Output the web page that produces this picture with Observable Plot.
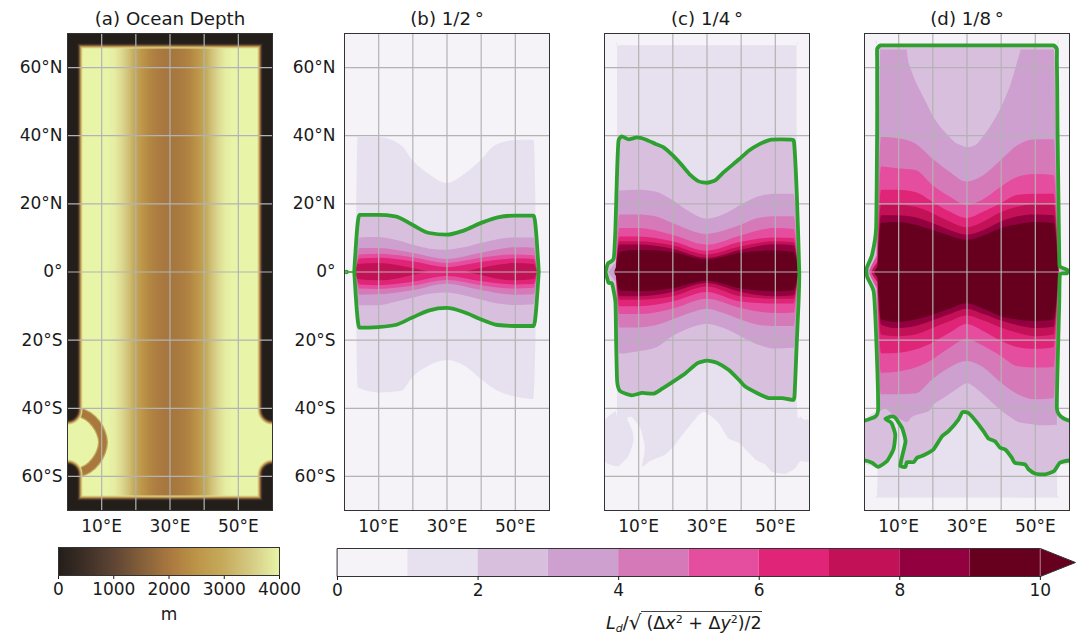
<!DOCTYPE html>
<html>
<head>
<meta charset="utf-8">
<script src="https://cdn.jsdelivr.net/npm/d3@7"></script>
<script src="https://cdn.jsdelivr.net/npm/@observablehq/plot@0.6"></script>
<style>
html,body{margin:0;padding:0;background:#fff}
#root{position:relative;width:1083px;height:638px;overflow:hidden;font-family:"DejaVu Sans",sans-serif;color:#1a1a1a}
#root svg{position:absolute;overflow:visible;background:transparent}
.cap{position:absolute;font-size:17px;white-space:nowrap;line-height:1}
.cap sub{font-size:11px;line-height:0;vertical-align:-3px}
.cap sup{font-size:11px;line-height:0;vertical-align:6px}
</style>
</head>
<body>
<div id="root"></div>
<script>
// ---- shared labels and scales ----
const titles = ["(a) Ocean Depth", "(b) 1/2\u2009\u00b0", "(c) 1/4\u2009\u00b0", "(d) 1/8\u2009\u00b0"];
const lonGrid = [10, 20, 30, 40, 50];
const lonLabels = [10, 30, 50];
const latGrid = [-60, -40, -20, 0, 20, 40, 60];
const levels = [0, 1, 2, 3, 4, 5, 6, 7, 8, 9];
const levelColors = ["#f5f2f8", "#e7e1ef", "#d8bfdd", "#cda0cf", "#d679b8", "#e54d9f", "#e02578", "#c21157", "#92003f", "#67001f"];
const levelTicks = [0, 2, 4, 6, 8, 10];
const depthDomain = [0, 500, 1000, 1500, 2000, 2500, 3000, 3500, 4000];
const depthRange = ["#231e1a", "#3f3028", "#5f4534", "#84603a", "#a9783f", "#bd9548", "#c6ac5c", "#d6cc85", "#e8f4a8"];
const depthTicks = [0, 1000, 2000, 3000, 4000];
const green = "#2ea02f";

// ---- panel (a): depth along longitude, every 2 degrees from 0 to 60 ----
const depthByLon = [4000,4000,4000,4000,4000,4000,4000,3900,3650,3300,2850,2500,2250,2100,2000,1950,2000,2100,2250,2500,2850,3300,3650,3900,4000,4000,4000,4000,4000,4000,4000];
const wallNW = [[0,-40.5],[0,70],[60,70],[60,-40.5]];
const wallS = [[0,-59.4],[0,-70],[60,-70],[60,-59.4]];
const wallLayers = [[3700,30],[3000,28],[2000,26],[1000,24],[300,22],[0,20]];
const ridgeRing = [[0,-40.5],[3,-41],[6,-42.3],[8.3,-44.5],[9.8,-47.2],[10.4,-50],[9.8,-52.8],[8.3,-55.5],[6,-57.7],[3,-59],[0,-59.5]];

// ---- common longitudes for contours ----
const lonA = [4.5,10,15,20,25,30,35,40,45,50,55.5];
const lonB = [4.5,10,20,30,40,50,55.5];

// ---- panel (b) ----
const b1Lon = [4,10,16.8,20,25,30,35,40,44,50,55.5];
const b1N = [39.5,39.5,37,32.7,28.5,26,28.5,32.7,37,38.6,38.7];
const b1S = [-34,-35.5,-35,-31,-27.5,-26,-27.5,-31.5,-34.5,-36.7,-37.4];
const b2N = [16.6,16.6,16.2,13.7,11.3,10.8,12,14.2,15.9,16.4,16.4];
const b2S = [-16.5,-16.3,-15.7,-13.5,-11.4,-10.7,-11.9,-14,-15.7,-16,-16];
const b3N = [10,10.1,9.3,7.9,6.7,6.4,7.1,8.4,9.5,10,10];
const b3S = [-9.9,-9.9,-8.9,-7.7,-6.5,-6.2,-7,-8.2,-9.4,-9.8,-9.6];
const b4N = [6.9,6.9,5.5,3.7,5.5,7.1,7];
const b4S = [-6.8,-6.7,-5.5,-3.6,-5.4,-6.8,-6.7];
const b5N = [5,5.2,4.2,2.5,4,5,4.8];
const b5S = [-5,-5.1,-4.2,-2.5,-4,-5,-4.8];
const b6N = [3.8,4,3,1.3,2.8,3.8,3.7];
const b6S = [-3.8,-4,-3,-1.3,-2.8,-3.8,-3.7];
const b7WLon = [4,10,15,20], b7WN = [2.2,2.5,2,1], b7WS = [-2.2,-2.6,-2.1,-1];
const b7ELon = [40,45,50,55.5], b7EN = [1,2,2.5,2.2], b7ES = [-1,-2.1,-2.6,-2.2];
const bTail = [[0.6,0],[3,0]];

// ---- panel (c) ----
const c1Ring = [[3.7,65.5],[4.5,66.5],[30,66.5],[55.4,66.5],[56.2,65.5],[56.3,20],[56.4,-40],[57.3,-42.4],[58.5,-43.4],[60,-43.8],[60,-55.3],[57.3,-55.5],[55.9,-57.5],[52.9,-59.2],[49,-58.6],[47,-56.5],[44.1,-55],[42.2,-53],[39.3,-50.1],[36.3,-48.9],[33.4,-44.3],[30,-41.4],[29,-41.1],[27.6,-41.9],[23.7,-46.7],[20.7,-50.6],[17.8,-53.6],[13.4,-55.5],[11,-57.2],[11.7,-53],[11.7,-50.6],[10.5,-45.8],[8,-42.6],[6.6,-43],[8.2,-46.7],[8.5,-49.7],[7,-54],[4,-57],[0,-55.3],[0,-43.8],[3.2,-40.9],[3.7,-40],[3.7,20]];
const c2Ring = [[2.7,4],[3.2,12.8],[3.7,30],[4.1,38.5],[5.1,39.8],[7.1,38.9],[9.5,39.5],[12,38.9],[14.9,37.6],[17.3,36.6],[20,34.2],[22.7,31.3],[25.1,28.5],[27.6,26.6],[30,26.2],[32.4,26.9],[34.9,29.3],[39.3,33],[42.2,35.6],[45.1,37.4],[48.5,38.8],[51.9,38.9],[54.8,38.8],[55.5,37.8],[56.3,22.5],[57,0],[56.8,-8.8],[56.3,-20],[55.6,-36.5],[54.8,-37.5],[52,-37],[48,-37],[44.6,-35.5],[41.2,-33.6],[39.3,-31.6],[36.3,-28.7],[32.9,-26.6],[30,-26],[27.1,-26.8],[23.7,-29.7],[20.2,-32.1],[16.8,-34.3],[14.4,-35.7],[11,-35.5],[8,-36.2],[4.6,-35],[3.7,-32],[3.4,-20],[3.2,-8.8],[2.2,-3.4],[1.2,-3.2],[0.7,-1.5],[0.3,0],[1,2.5]];
const c3N = [23.8,24,23.5,21,17.6,15.5,16.8,19.6,22,22.8,22.8];
const c3S = [-24.1,-23.4,-22.4,-19,-16.6,-15.3,-16.6,-19,-21.4,-22.6,-22.4];
const c4N = [16.7,16.7,16.2,14.2,12.2,11,12,13.7,15.7,16.2,16.2];
const c4S = [-16.4,-16.4,-15.8,-14.1,-12.2,-10.9,-12.2,-14.1,-15.6,-16,-16];
const c5N = [12.8,12.8,10.8,7.9,10.6,12.8,12.5];
const c5S = [-12.5,-12.5,-10.9,-8,-10.7,-12.2,-12];
const c6N = [10.3,10.3,8.9,6.1,8.7,10,9.8];
const c6S = [-10.2,-10.2,-8.8,-6,-8.8,-9.4,-9.4];
const c7N = [8.9,8.9,7.7,5,7.4,8.9,8.6];
const c7S = [-8.3,-8.3,-7.3,-4.4,-7.3,-8,-8];
const c8N = [7.9,7.9,6.7,4,6.4,8,7.7];
const c8S = [-7.3,-7.3,-6,-3.4,-6,-7.3,-7];
const c9N = [5.7,6.4,5.7,3.5,5.5,6.2,5.7];
const c9S = [-5.6,-5.8,-4.9,-2.7,-5,-5.8,-5.5];
const cSliver3 = [[1.2,0],[3.7,3],[3.7,-3]];
const cSliver9 = [[2.8,0],[4,2],[4,-2]];

// ---- panel (d) ----
const d1Ring = [[3.7,65.8],[4.4,66.5],[30,66.5],[55.7,66.5],[56.4,65.8],[56.4,10],[56.4,-40],[57.3,-42.5],[60,-43.8],[60,-56],[57.3,-56.5],[56.4,-58],[56.4,-65.5],[55.7,-66.2],[30,-66.2],[4.4,-66.2],[3.7,-65.5],[3.7,-57.5],[0,-56],[0,-43.8],[3,-41],[3.7,-40],[3.7,10]];
const d2Ring = [[3.7,65.5],[4.7,66.5],[7,66.5],[10,66.5],[15,66.5],[30,66.5],[45,66.5],[50,66.5],[53,66.5],[55.3,66.5],[56.3,65.5],[56.3,62],[56.4,55],[56.5,42],[57,4],[57.3,1.6],[59.4,0.6],[59.2,-0.4],[57.2,-0.8],[57,-8.8],[56.5,-28.2],[56.3,-40],[57,-41.9],[58.3,-43],[60,-43.6],[64,-44],[64,-55],[60,-55.3],[57.2,-56],[55.5,-58.4],[52.8,-59.4],[50,-59.2],[48,-57.9],[47,-56.5],[44,-56],[43.1,-54.5],[41.2,-52.1],[39.7,-51.6],[38.2,-49.7],[36.3,-48.9],[34.8,-46.7],[32.8,-44],[30.4,-41.4],[28.7,-41.1],[27.5,-43.3],[24.6,-46.7],[22.7,-48.2],[20.2,-52.1],[17.3,-53.8],[15.4,-54.5],[14.4,-55.8],[12.4,-55.8],[12,-57.2],[10.5,-57],[10.8,-55],[12,-49.7],[11,-45.8],[9,-42.8],[7.9,-42.4],[6.1,-43.1],[7.9,-44.3],[9,-47.7],[8.5,-52],[6.6,-55.5],[4,-57.2],[2.2,-56],[0,-55.3],[-4,-55],[-4,-44],[0,-43.6],[3.2,-42.4],[4,-40],[3.4,-18.5],[2.7,-5.8],[0.8,-1.5],[0.6,1],[2.2,5],[3.4,12.8],[3.7,42],[3.7,55],[3.7,62]];
const d3Ring = [[4.6,64.8],[5,65.3],[12,65.3],[12.4,64.8],[12.9,61.4],[14.9,56],[17.3,51.2],[20.2,45.4],[23.1,41.5],[26.5,38],[30,36.6],[32.9,37.6],[36.3,42],[39.7,47.8],[42.6,54.6],[44.6,61.4],[45.6,64.8],[46,65.3],[55.2,65.3],[55.5,64.8],[56.3,30],[57,0],[56.3,-30],[56.3,-44.4],[55.8,-44.8],[51.8,-45],[45,-44],[39.7,-40.4],[34.3,-35.5],[30,-32.6],[24.6,-36],[20.2,-38.8],[18.8,-40.9],[14,-42.4],[12.4,-44.1],[9,-42.4],[6.1,-40],[3.7,-39.4],[3.4,-6],[1,0],[3.4,6],[4.2,40]];
const d4Lon = [5,9.5,15,20,25,30,35,40,45,50,55.5];
const d4N = [39.5,39.2,37.6,33.2,29.3,26.4,28.3,32.7,37.1,38.8,38.8];
const d4S = [-36,-36,-35.8,-31.6,-28.2,-26.3,-28.2,-32.6,-36,-37.5,-37.2];
const d5N = [30.8,30.3,29.8,25.4,22,19.6,21.3,24.9,27.8,28.6,28.3];
const d5S = [-29.7,-29.4,-28.2,-25.8,-22.4,-19.8,-21.9,-24.8,-27.8,-28.2,-28];
const d6N = [24,24,23.3,20.5,17.6,15.7,17.6,20,22.5,22.8,22.8];
const d6S = [-24,-23.9,-22.9,-20.9,-18,-15.4,-17.5,-20.3,-22.2,-22.7,-22.2];
const d7N = [19.6,19.6,19,17.1,14.7,13,14.7,17.4,19,19.9,19.8];
const d7S = [-18.5,-19,-18.5,-16.6,-14.6,-12.9,-14.4,-16.4,-18,-19,-18.5];
const d8N = [16.5,16.5,15.9,14.2,12.2,10.8,12.2,14.7,16.2,16.7,16.5];
const d8S = [-15.6,-16.6,-16,-14.4,-12.5,-10.9,-12.5,-14.4,-15.8,-16.6,-16.2];
const d9N = [14.2,14.5,13.7,12.2,10.6,9.3,10.6,12.8,13.9,14.5,14.2];
const d9S = [-14.1,-14.8,-14.1,-12.7,-10.9,-9.3,-10.9,-13.1,-14.1,-14.6,-14.1];
const dSliver5 = [[1.4,0],[4,5],[4,-5]];
const dSliver7 = [[2,0],[4,3],[4,-3]];
const dSliver9 = [[2.8,0],[4.2,2],[4.2,-2]];

// ---- assemble contours ----
const ring = (level, pts) => ({kind: "ring", level, pts: pts.map(([lon, lat]) => ({lon, lat, level}))});
const band = (level, lons, n, s, w, e) => ({kind: "band", level, pts: [
  {lon: w, n: 0, s: 0, level},
  ...lons.map((lon, i) => ({lon, n: n[i], s: s[i], level})),
  {lon: e, n: 0, s: 0, level}
]});

const contoursB = [
  band(1, b1Lon, b1N, b1S, 3.4, 56.4),
  band(2, lonA, b2N, b2S, 3, 57),
  band(3, lonA, b3N, b3S, 3.3, 56.6),
  band(4, lonB, b4N, b4S, 3.4, 56.5),
  band(5, lonB, b5N, b5S, 3.4, 56.5),
  band(6, lonB, b6N, b6S, 3.4, 56.5),
  band(7, b7WLon, b7WN, b7WS, 3.4, 24.5),
  band(7, b7ELon, b7EN, b7ES, 35.5, 56.4)
];
const contoursC = [
  ring(1, c1Ring),
  ring(2, c2Ring),
  ring(3, cSliver3),
  band(3, lonA, c3N, c3S, 3.3, 56.8),
  band(4, lonA, c4N, c4S, 3.4, 56.8),
  band(5, lonB, c5N, c5S, 3.4, 56.8),
  band(6, lonB, c6N, c6S, 3.4, 56.8),
  band(7, lonB, c7N, c7S, 3.4, 56.8),
  band(8, lonB, c8N, c8S, 3.4, 56.8),
  ring(9, cSliver9),
  band(9, lonB, c9N, c9S, 3.4, 56.8)
];
const contoursD = [
  ring(1, d1Ring),
  ring(2, d2Ring),
  ring(3, d3Ring),
  band(4, d4Lon, d4N, d4S, 3.6, 56.9),
  ring(5, dSliver5),
  band(5, d4Lon, d5N, d5S, 3.7, 56.9),
  band(6, d4Lon, d6N, d6S, 3.8, 56.9),
  ring(7, dSliver7),
  band(7, d4Lon, d7N, d7S, 3.8, 56.9),
  band(8, d4Lon, d8N, d8S, 3.9, 56.9),
  ring(9, dSliver9),
  band(9, d4Lon, d9N, d9S, 3.9, 56.9)
];

// ---- layout helpers ----
const root = document.getElementById("root");
const fontStyle = {fontFamily: "DejaVu Sans", color: "#1a1a1a", background: "transparent", overflow: "visible"};
const tickFont = 17;
const latFmt = d => d === 0 ? "0\u00b0" : Math.abs(d) + "\u00b0" + (d > 0 ? "N" : "S");
const lonFmt = d => d + "\u00b0E";
const PW = 205, TOP = 33, PH = 477;

function place(svg, left, top) { svg.style.left = left + "px"; svg.style.top = top + "px"; root.appendChild(svg); }

function panelPlot(title, x0, yLabelPad, marks, color) {
  const ML = 60;
  const svg = Plot.plot({
    width: PW + ML + 6, height: TOP + PH + 30,
    marginLeft: ML, marginRight: 6, marginTop: TOP, marginBottom: 30,
    style: fontStyle,
    x: {domain: [0, 60], label: null, axis: null},
    y: {domain: [-70, 70], label: null, axis: null},
    color,
    marks: [
      ...marks,
      Plot.axisX(lonLabels, {tickSize: 0, tickPadding: 9, tickFormat: lonFmt, label: null, fontSize: tickFont}),
      ...(yLabelPad == null ? [] : [Plot.axisY(latGrid, {tickSize: 0, tickPadding: yLabelPad, tickFormat: latFmt, label: null, fontSize: tickFont})]),
      Plot.text([title], {frameAnchor: "top", dy: -14, fontSize: 18.2, fill: "#1a1a1a", lineAnchor: "middle"}),
      Plot.frame({stroke: "#333", strokeWidth: 1})
    ]
  });
  place(svg, x0 - ML, 0);
}

const grids = () => [
  Plot.gridX(lonGrid, {stroke: "#b3b3b3", strokeOpacity: 1, strokeWidth: 1.2}),
  Plot.gridY(latGrid, {stroke: "#b3b3b3", strokeOpacity: 1, strokeWidth: 1.2})
];

const levelColor = {type: "ordinal", domain: levels, range: levelColors};
const depthColor = {type: "linear", domain: depthDomain, range: depthRange};
const ringCurve = {curve: "cardinal-closed", tension: 0.5};

const contourFill = c => c.kind === "band"
  ? Plot.area(c.pts, {x1: "lon", y1: "s", y2: "n", z: "level", fill: "level", stroke: "none", curve: "monotone-x", clip: "frame"})
  : Plot.line(c.pts, {x: "lon", y: "lat", z: "level", fill: "level", stroke: "none", ...ringCurve, clip: "frame"});
const contourEdge = c => c.kind === "band"
  ? Plot.area(c.pts, {x1: "lon", y1: "s", y2: "n", z: "level", fill: "none", stroke: green, strokeWidth: 3.8, curve: "monotone-x", clip: "frame"})
  : Plot.line(c.pts, {x: "lon", y: "lat", z: "level", stroke: green, strokeWidth: 3.8, ...ringCurve, clip: "frame", strokeLinejoin: "round"});

function contourMarks(contours, extra = []) {
  return [
    Plot.frame({fill: levelColors[0], stroke: "none"}),
    ...contours.map(contourFill),
    ...grids(),
    ...extra,
    contourEdge(contours.find(c => c.level === 2))
  ];
}

// ---- panel (a) ----
const wallPts = (w, depth) => w.map(([lon, lat]) => ({lon, lat, depth}));
const wallMarks = wallLayers.flatMap(([depth, width]) => [wallNW, wallS].map(w =>
  Plot.line(wallPts(w, depth), {x: "lon", y: "lat", stroke: "depth", strokeWidth: width, strokeLinecap: "round", strokeLinejoin: "miter", clip: "frame"})));
const depthAt = d3.piecewise(d3.interpolateNumber, depthByLon);

panelPlot(titles[0], 67, 5, [
  Plot.raster({fill: lon => depthAt(Math.min(1, Math.max(0, lon / 60))), x1: 0, x2: 60, y1: -70, y2: 70, pixelSize: 1, clip: "frame"}),
  Plot.line(wallPts(ridgeRing, 2900), {x: "lon", y: "lat", stroke: "depth", strokeWidth: 10, curve: "catmull-rom", clip: "frame"}),
  Plot.line(wallPts(ridgeRing, 2000), {x: "lon", y: "lat", stroke: "depth", strokeWidth: 7.5, curve: "catmull-rom", clip: "frame"}),
  ...wallMarks,
  ...grids()
], depthColor);

// ---- panels (b), (c), (d) ----
panelPlot(titles[1], 344, 9, contourMarks(contoursB, [
  Plot.line(bTail.map(([lon, lat]) => ({lon, lat})), {x: "lon", y: "lat", stroke: green, strokeWidth: 1.5}),
  Plot.dot(bTail.slice(0, 1).map(([lon, lat]) => ({lon, lat})), {x: "lon", y: "lat", r: 1.6, stroke: green, strokeWidth: 1.2})
]), levelColor);
panelPlot(titles[2], 604, null, contourMarks(contoursC), levelColor);
panelPlot(titles[3], 864, null, contourMarks(contoursD), levelColor);

// ---- colour bars ----
const barBase = {height: 66, marginTop: 8, marginBottom: 30, style: fontStyle};
const depthBar = Plot.plot({
  ...barBase, width: 221 + 30 + 30, marginLeft: 30, marginRight: 30,
  x: {domain: [0, 4000], label: null, axis: null},
  y: {domain: [0, 1], axis: null},
  color: depthColor,
  marks: [
    Plot.raster({fill: v => v, x1: 0, x2: 4000, y1: 0, y2: 1, pixelSize: 1}),
    Plot.axisX(depthTicks, {tickSize: 4, tickPadding: 3, label: null, tickFormat: d => String(d), fontSize: tickFont}),
    Plot.frame({stroke: "#333"})
  ]
});
place(depthBar, 58 - 30, 539);

const arrowTip = 10.5;
const barOutline = [[0,0],[10,0],[arrowTip,0.5],[10,1],[0,1]].map(([v, t]) => ({v, t}));
const arrowFill = [[10,0],[arrowTip,0.5],[10,1]].map(([v, t]) => ({v, t, level: 9}));
const levelBar = Plot.plot({
  ...barBase, width: 738 + 20 + 5, marginLeft: 20, marginRight: 5,
  x: {domain: [0, arrowTip], label: null, axis: null},
  y: {domain: [0, 1], axis: null},
  color: levelColor,
  marks: [
    Plot.rect(levels, {x1: d => d, x2: d => d + 1, y1: 0, y2: 1, fill: d => d}),
    Plot.line(arrowFill, {x: "v", y: "t", z: "level", fill: "level", stroke: "none"}),
    Plot.line(barOutline, {x: "v", y: "t", stroke: "#333", strokeWidth: 1, curve: "linear-closed"}),
    Plot.axisX(levelTicks, {tickSize: 4, tickPadding: 3, label: null, tickFormat: d => String(d), fontSize: tickFont})
  ]
});
place(levelBar, 337 - 20, 540);

// ---- colour bar captions ----
const mCap = document.createElement("div");
mCap.className = "cap";
mCap.style.cssText = "left:169px;top:606px;transform:translateX(-50%)";
mCap.textContent = "m";
root.appendChild(mCap);

const ldCap = document.createElement("div");
ldCap.className = "cap";
ldCap.style.cssText = "left:606px;top:612px;font-size:17.5px";
ldCap.innerHTML = '<i>L<sub>d</sub></i>/<span style="font-size:1.15em">\u221a</span><span style="border-top:1px solid #444;padding:1px 0 0 5px">(\u0394<i>x</i><sup>2</sup> + \u0394<i>y</i><sup>2</sup>)/2</span>';
root.appendChild(ldCap);
</script>
</body>
</html>
